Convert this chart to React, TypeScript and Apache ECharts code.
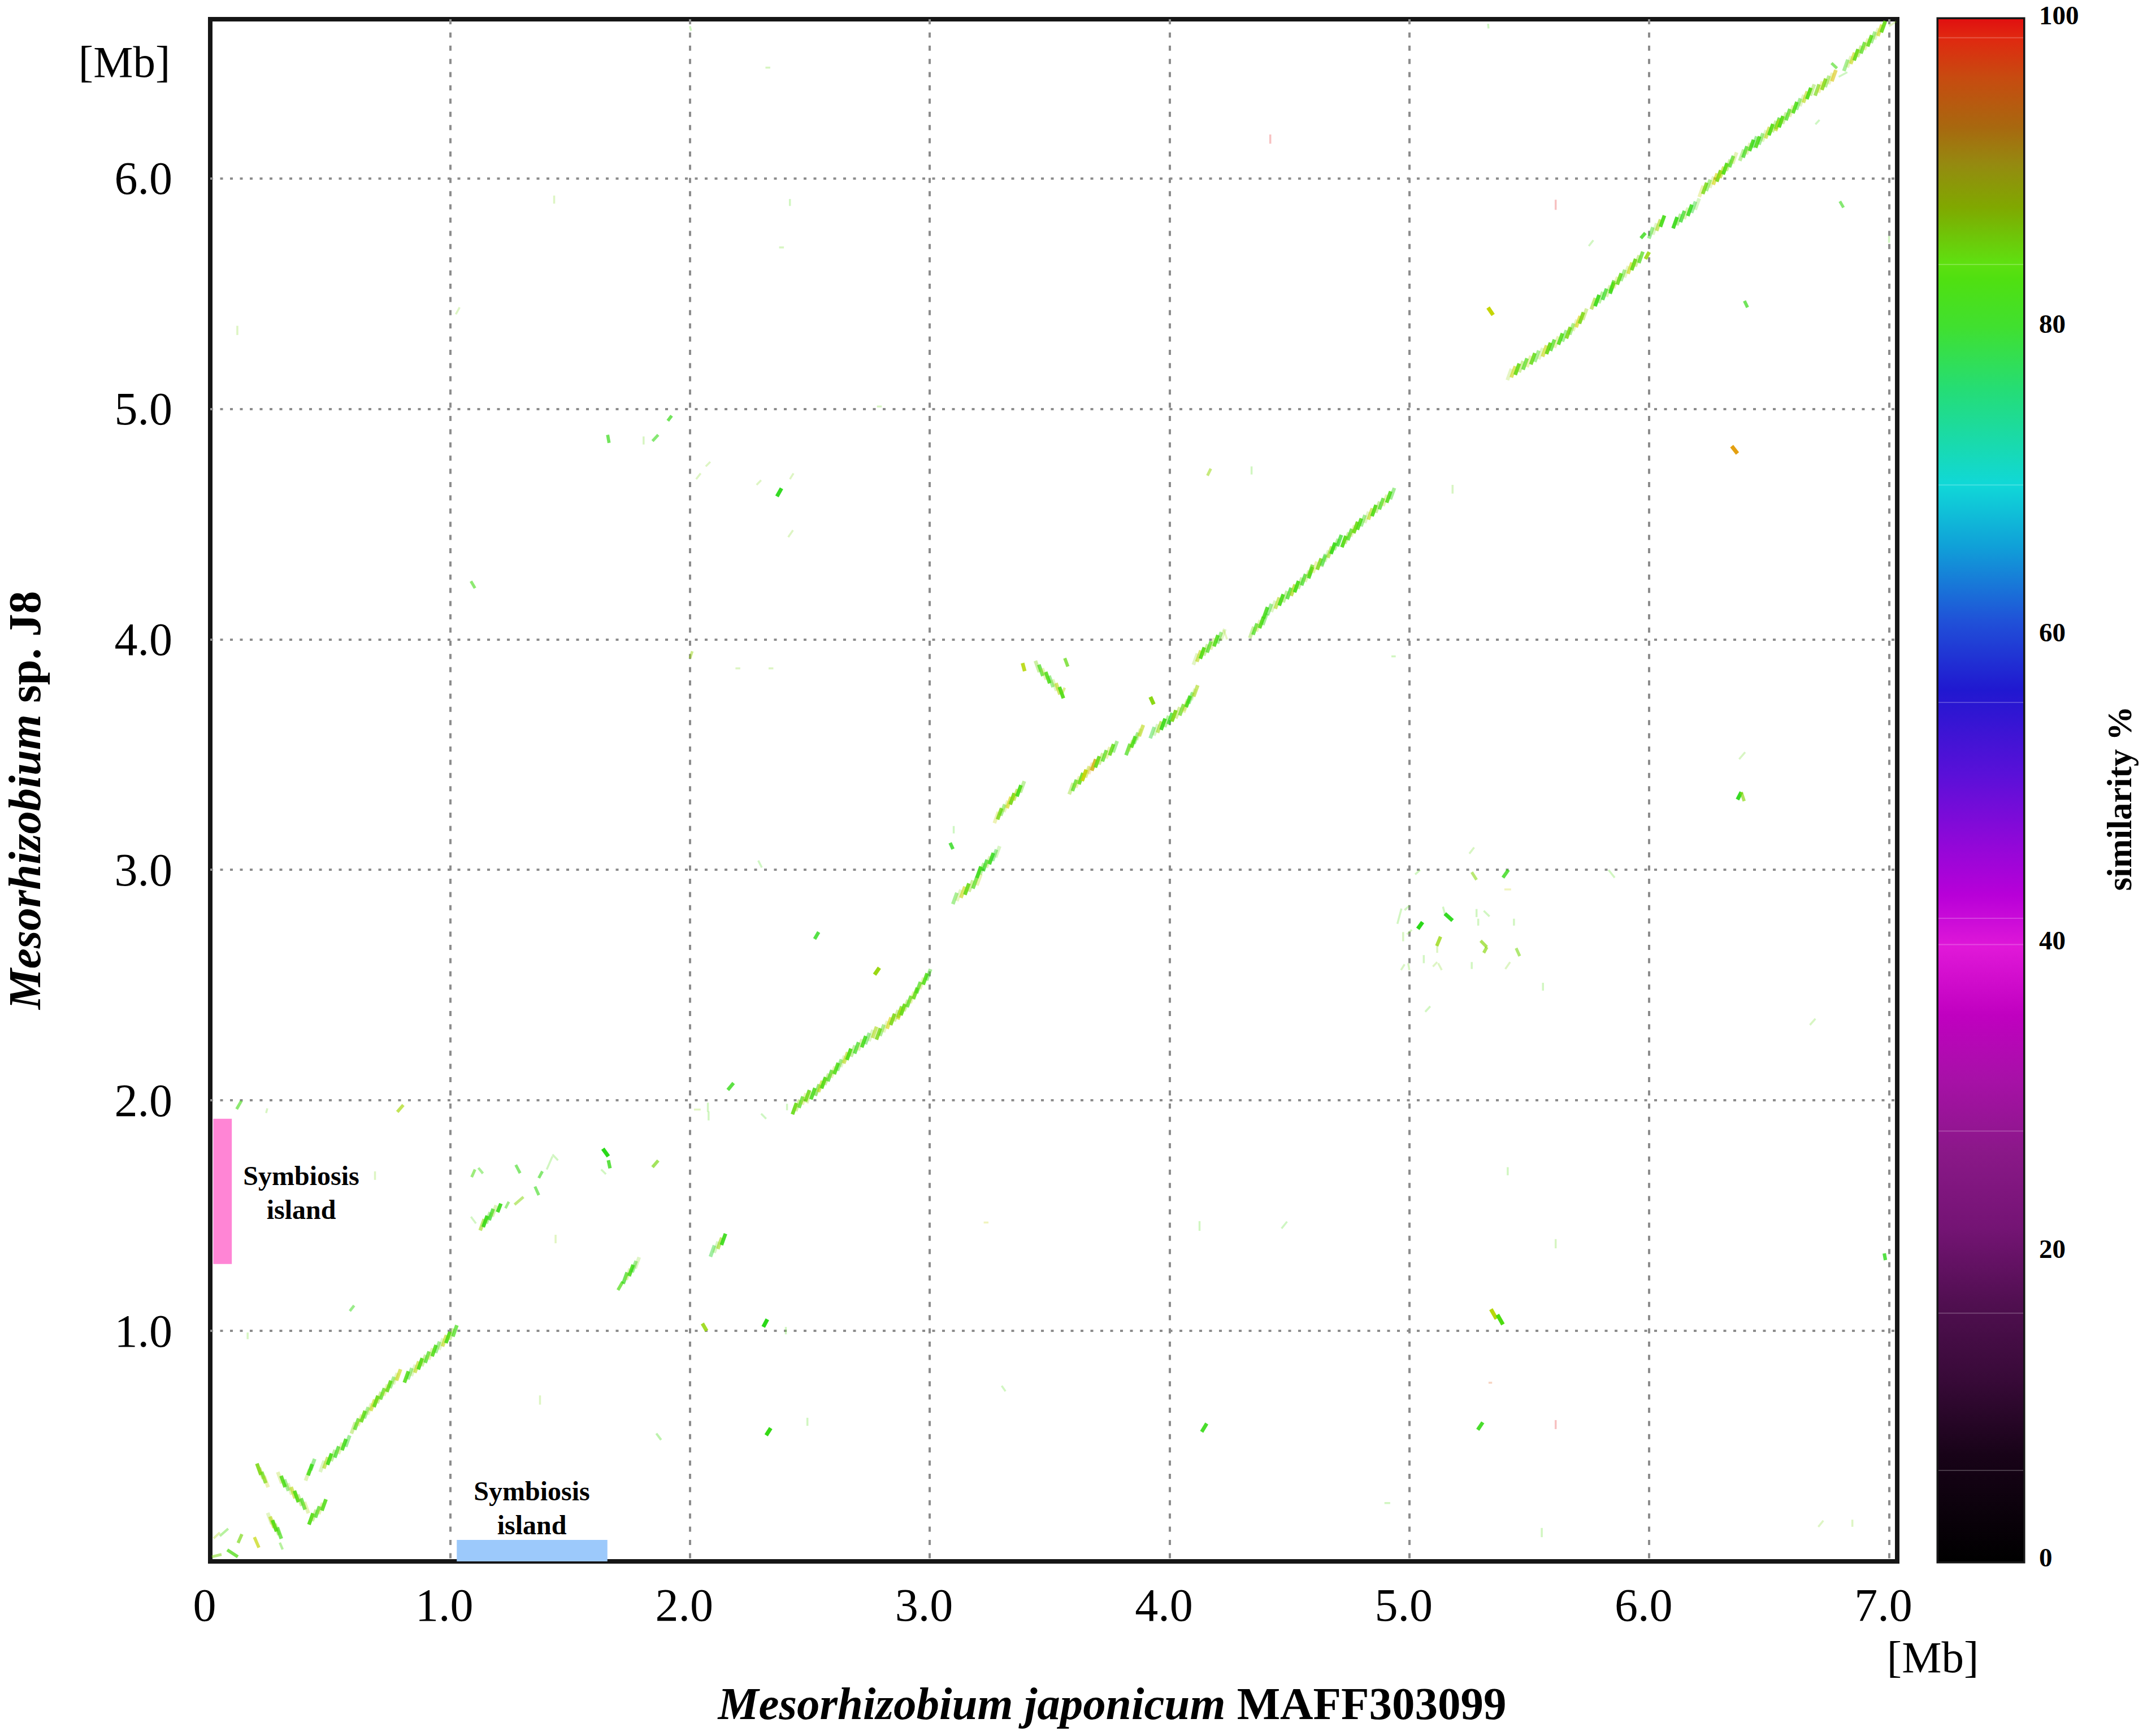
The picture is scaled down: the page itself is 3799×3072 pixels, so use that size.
import React, { useEffect, useRef } from "react";
import * as echarts from "echarts";

const SERIF = "Liberation Serif";

const xTickLabels = ["0", "1.0", "2.0", "3.0", "4.0", "5.0", "6.0", "7.0"];
const yTickLabels = ["", "1.0", "2.0", "3.0", "4.0", "5.0", "6.0"];

// similarity colour bar
const simStops = [0, 6.9, 11.8, 16.7, 21.6, 26.5, 31.4, 35.4, 39.8, 43.2, 46.6, 51, 56.5, 60.9, 65.8, 69.8, 76, 80, 83.2, 84.2, 87.8, 90.6, 93, 96.3, 98.8, 100];
const simColors = ["#000000", "#180318", "#380a38", "#500f50", "#741474", "#8a1888", "#a810a8", "#c000c0", "#e018d8", "#b800d8", "#9008d8", "#5a10d8", "#2018d0", "#2050d8", "#10a0d8", "#10d8d8", "#25dd75", "#40e030", "#50e010", "#5fe010", "#80a800", "#958a10", "#a8680f", "#c84a10", "#e02810", "#e01010"];
const barSheen = [5.9, 16.1, 27.9, 40, 41.7, 55.7, 69.8, 84.1, 98.8];

// colours the marks take in the picture, brighter than the bar at the same similarity
const markStops = [78, 80, 83, 85, 88, 91, 94, 97, 100];
const markColors = ["#30d848", "#2ad818", "#4cdc10", "#7cd818", "#a8d810", "#d4d400", "#e4a010", "#e05a10", "#e01010"];

// [x1, y1, x2, y2, similarity] in Mb, striped syntenic blocks running forward
const forwardBlocks = [
  [0.42, 0.184, 0.474, 0.245, 83], [0.406, 0.375, 0.427, 0.42, 82], [0.467, 0.412, 0.573, 0.522, 82],
  [0.597, 0.579, 0.785, 0.809, 84], [0.818, 0.8, 1.02, 1.0, 83],
  [1.134, 1.46, 1.184, 1.52, 81], [1.73, 1.229, 1.78, 1.295, 82], [2.094, 1.346, 2.14, 1.397, 81],
  [2.436, 1.964, 2.49, 2.02, 84], [2.495, 2.013, 2.531, 2.045, 82], [2.531, 2.045, 2.663, 2.2, 83],
  [2.68, 2.214, 2.77, 2.295, 82], [2.786, 2.288, 2.875, 2.383, 85], [2.875, 2.376, 2.94, 2.464, 84], [2.953, 2.489, 2.995, 2.545, 83],
  [3.105, 2.876, 3.205, 2.957, 84], [3.205, 2.99, 3.283, 3.078, 81],
  [3.278, 3.227, 3.344, 3.308, 85], [3.344, 3.308, 3.386, 3.36, 82],
  [3.59, 3.352, 3.644, 3.41, 84], [3.644, 3.41, 3.684, 3.455, 91], [3.684, 3.455, 3.773, 3.534, 84],
  [3.827, 3.522, 3.882, 3.604, 83], [3.928, 3.595, 4.018, 3.668, 81], [4.018, 3.668, 4.067, 3.707, 85], [4.067, 3.715, 4.109, 3.776, 82],
  [4.108, 3.914, 4.222, 4.02, 83], [4.343, 4.03, 4.397, 4.087, 83],
  [4.4, 4.115, 4.515, 4.213, 82], [4.515, 4.213, 4.588, 4.289, 82], [4.588, 4.299, 4.642, 4.34, 85], [4.642, 4.345, 4.708, 4.428, 81],
  [4.727, 4.424, 4.776, 4.485, 83], [4.776, 4.485, 4.929, 4.632, 83],
  [5.417, 5.149, 5.58, 5.262, 84], [5.58, 5.262, 5.663, 5.33, 83], [5.663, 5.33, 5.731, 5.41, 85],
  [5.767, 5.456, 5.845, 5.524, 81], [5.845, 5.532, 5.965, 5.657, 84],
  [6.007, 5.763, 6.055, 5.814, 82], [6.108, 5.807, 6.2, 5.888, 81],
  [6.217, 5.943, 6.29, 6.01, 85], [6.29, 6.01, 6.356, 6.088, 83], [6.386, 6.1, 6.44, 6.157, 82],
  [6.452, 6.157, 6.535, 6.238, 83], [6.535, 6.23, 6.68, 6.383, 83], [6.7, 6.383, 6.77, 6.445, 86], [6.82, 6.49, 6.976, 6.657, 84],
];

// striped blocks running backward
const invertedBlocks = [
  [0.203, 0.4, 0.233, 0.346, 85], [0.29, 0.363, 0.401, 0.233, 83], [0.248, 0.186, 0.288, 0.123, 83],
  [3.449, 3.882, 3.549, 3.769, 83],
];

// [x1, y1, x2, y2, similarity, strength] in Mb, short single hits
const strongHits = [
  [1.637, 1.79, 1.66, 1.757, 80, 1], [1.66, 1.74, 1.667, 1.705, 81, 0.8], [1.198, 1.515, 1.212, 1.552, 81, 0.9],
  [2.052, 1.032, 2.07, 1.0, 87, 0.9], [2.306, 1.017, 2.323, 1.05, 80, 1], [2.318, 0.547, 2.337, 0.578, 81, 1],
  [4.134, 0.562, 4.155, 0.598, 81, 0.9], [5.34, 1.094, 5.363, 1.052, 89, 1], [5.367, 1.07, 5.39, 1.028, 83, 1],
  [5.285, 0.571, 5.306, 0.603, 81, 0.9], [6.98, 1.336, 6.985, 1.307, 80, 0.8],
  [5.328, 5.439, 5.349, 5.407, 90, 1], [6.344, 4.838, 6.368, 4.806, 94, 1],
  [3.92, 3.75, 3.934, 3.718, 86, 1], [3.387, 3.897, 3.396, 3.862, 89, 0.9], [3.563, 3.918, 3.576, 3.882, 84, 0.75],
  [2.77, 2.545, 2.79, 2.575, 87, 1], [2.52, 2.7, 2.537, 2.73, 80, 0.8], [2.158, 2.045, 2.182, 2.075, 81, 0.8],
  [3.085, 3.117, 3.097, 3.09, 80, 0.8], [5.148, 2.81, 5.18, 2.78, 80, 0.95], [5.035, 2.744, 5.055, 2.773, 80, 1],
  [5.39, 2.966, 5.413, 3.0, 81, 0.8], [6.368, 3.305, 6.384, 3.337, 80, 0.95], [6.384, 3.337, 6.396, 3.298, 86, 0.7],
  [5.114, 2.67, 5.13, 2.71, 87, 0.8], [5.297, 2.692, 5.323, 2.665, 86, 0.7], [5.323, 2.665, 5.31, 2.64, 86, 0.7],
  [5.26, 2.99, 5.28, 2.957, 86, 0.6], [5.445, 2.66, 5.46, 2.626, 85, 0.6], [5.965, 5.74, 5.984, 5.763, 81, 0.8],
  [5.984, 5.65, 6.0, 5.68, 87, 0.9], [6.397, 5.468, 6.41, 5.44, 81, 0.7], [6.795, 5.9, 6.81, 5.873, 81, 0.6],
  [2.363, 4.62, 2.382, 4.655, 80, 0.95], [1.908, 4.948, 1.924, 4.97, 81, 0.7], [1.657, 4.887, 1.663, 4.852, 81, 0.7],
  [1.844, 4.86, 1.868, 4.887, 81, 0.6], [1.844, 1.71, 1.868, 1.739, 85, 0.7], [1.7, 1.177, 1.72, 1.213, 83, 0.7],
  [1.354, 1.626, 1.37, 1.589, 81, 0.6], [1.269, 1.548, 1.306, 1.581, 86, 0.55], [1.231, 1.532, 1.245, 1.56, 82, 0.5],
  [1.09, 1.667, 1.104, 1.7, 83, 0.55], [1.118, 1.707, 1.137, 1.683, 82, 0.45], [1.274, 1.72, 1.292, 1.684, 81, 0.6],
  [1.37, 1.663, 1.385, 1.692, 81, 0.6], [0.184, 0.105, 0.203, 0.06, 90, 0.7], [0.116, 0.08, 0.132, 0.118, 85, 0.7],
  [0.071, 0.05, 0.115, 0.02, 83, 0.75], [0.014, 0.1, 0.04, 0.125, 88, 0.35], [0.04, 0.11, 0.075, 0.142, 83, 0.4],
  [0.007, 0.02, 0.047, 0.03, 85, 0.55], [0.29, 0.081, 0.302, 0.052, 83, 0.4], [0.78, 1.95, 0.805, 1.98, 88, 0.7],
  [0.11, 1.962, 0.13, 1.998, 82, 0.6], [6.76, 6.5, 6.783, 6.477, 82, 0.6], [2.0, 3.917, 2.01, 3.948, 87, 0.5],
  [1.087, 4.252, 1.104, 4.222, 82, 0.6], [4.158, 4.71, 4.172, 4.74, 87, 0.55], [3.55, 3.76, 3.563, 3.79, 89, 0.45],
  [0.582, 1.086, 0.6, 1.11, 81, 0.5], [1.86, 0.555, 1.88, 0.527, 82, 0.35],
];

const faintHits = [
  [1.403, 1.7, 1.427, 1.757, 83], [1.427, 1.765, 1.45, 1.74, 83], [1.63, 1.7, 1.65, 1.68, 83], [1.087, 1.495, 1.108, 1.466, 83],
  [0.687, 1.692, 0.687, 1.655, 85], [1.44, 1.417, 1.44, 1.38, 86], [0.233, 1.945, 0.238, 1.965, 84], [2.017, 1.96, 2.045, 1.96, 86],
  [2.078, 1.952, 2.078, 1.913, 83], [2.075, 1.95, 2.075, 1.99, 83], [2.405, 1.957, 2.405, 1.985, 83], [2.297, 1.942, 2.318, 1.92, 82],
  [2.285, 3.04, 2.3, 3.01, 82], [3.1, 3.158, 3.1, 3.19, 82], [4.226, 4.04, 4.24, 4.0, 88], [4.342, 4.715, 4.342, 4.75, 83],
  [5.18, 4.632, 5.18, 4.67, 84], [4.925, 3.926, 4.943, 3.926, 83], [5.748, 5.706, 5.767, 5.731, 83], [6.693, 6.234, 6.71, 6.253, 82],
  [7.0, 5.75, 7.0, 5.72, 83], [5.328, 6.67, 5.33, 6.65, 82], [6.79, 6.44, 6.826, 6.46, 82], [7.0, 6.66, 7.03, 6.68, 86],
  [6.375, 3.48, 6.4, 3.51, 84], [5.25, 3.07, 5.27, 3.097, 84], [5.024, 2.98, 5.045, 3.0, 83], [5.83, 3.0, 5.856, 2.966, 83],
  [5.396, 2.915, 5.424, 2.915, 90], [4.98, 2.825, 5.0, 2.845, 83], [4.95, 2.766, 4.967, 2.832, 83], [5.14, 2.84, 5.15, 2.8, 83],
  [5.28, 2.83, 5.28, 2.795, 83], [5.287, 2.788, 5.287, 2.758, 83], [5.31, 2.822, 5.334, 2.798, 83], [5.436, 2.788, 5.436, 2.758, 83],
  [4.974, 2.73, 4.974, 2.69, 84], [4.99, 2.72, 5.01, 2.74, 84], [5.116, 2.676, 5.116, 2.64, 85], [5.06, 2.63, 5.06, 2.595, 83],
  [4.965, 2.565, 4.98, 2.59, 84], [4.995, 2.595, 5.0, 2.565, 84], [5.098, 2.58, 5.116, 2.6, 85], [5.12, 2.595, 5.135, 2.565, 85],
  [5.26, 2.6, 5.26, 2.57, 83], [5.4, 2.57, 5.42, 2.6, 85], [5.557, 2.51, 5.557, 2.476, 83], [5.066, 2.384, 5.087, 2.408, 83],
  [6.67, 2.327, 6.693, 2.354, 84], [5.41, 1.71, 5.41, 1.675, 83], [4.467, 1.444, 4.49, 1.474, 82], [5.61, 1.398, 5.61, 1.358, 84],
  [4.896, 0.253, 4.92, 0.253, 83], [5.552, 0.145, 5.552, 0.105, 83], [6.705, 0.15, 6.726, 0.177, 85], [6.847, 0.181, 6.847, 0.15, 85],
  [3.3, 0.762, 3.316, 0.738, 83], [2.4, 1.017, 2.4, 0.985, 83], [2.49, 0.623, 2.49, 0.588, 83], [4.125, 1.476, 4.125, 1.434, 83],
  [3.225, 1.47, 3.245, 1.47, 90], [0.156, 0.993, 0.156, 0.964, 84], [1.375, 0.72, 1.375, 0.68, 85], [0.113, 5.36, 0.113, 5.32, 85],
  [1.024, 5.41, 1.04, 5.44, 85], [1.434, 5.925, 1.434, 5.89, 85], [2.315, 6.48, 2.335, 6.48, 84], [2.417, 5.91, 2.417, 5.88, 83],
  [2.372, 5.7, 2.392, 5.7, 84], [2.78, 5.01, 2.8, 5.01, 84], [1.807, 4.88, 1.807, 4.845, 84], [2.026, 4.695, 2.045, 4.72, 85],
  [2.066, 4.75, 2.085, 4.77, 85], [2.278, 4.67, 2.297, 4.69, 85], [2.417, 4.695, 2.432, 4.72, 85], [2.41, 4.443, 2.43, 4.473, 85],
  [2.19, 3.874, 2.21, 3.874, 85], [2.328, 3.874, 2.348, 3.874, 85], [2.0, 6.66, 2.005, 6.64, 83],
  [5.33, 0.775, 5.345, 0.775, 97], [5.61, 0.613, 5.61, 0.574, 100], [5.61, 5.907, 5.61, 5.863, 100], [4.42, 6.19, 4.42, 6.15, 100],
];

// [x1, y1, x2, y2, colour] in Mb, the two annotated island bars
const islandBars = [
  [0.0125, 1.29, 0.09, 1.92, "#ff85d5"],
  [1.028, 0, 1.656, 0.093, "#9cc9fb"],
];

const stripeOpacity = [0.9, 0.4, 0.7, 0.3, 0.85, 0.45, 0.25, 0.6];
const stripeSimShift = [0, 2, -1, 5, 0, -2, 3, 6];

function markColor(s: number): string {
  let i = 0;
  while (i < markStops.length - 2 && s > markStops[i + 1]) i++;
  const t = Math.min(1, Math.max(0, (s - markStops[i]) / (markStops[i + 1] - markStops[i])));
  const a = echarts.color.parse(markColors[i]);
  const b = echarts.color.parse(markColors[i + 1]);
  const c = [0, 1, 2].map((k) => Math.round(a[k] + (b[k] - a[k]) * t));
  return `rgb(${c[0]},${c[1]},${c[2]})`;
}

function renderStripes(params: any, api: any) {
  const p1 = api.coord([api.value(0), api.value(1)]);
  const p2 = api.coord([api.value(2), api.value(3)]);
  const sim = api.value(4);
  const dx = p2[0] - p1[0];
  const dy = p2[1] - p1[1];
  const len = Math.hypot(dx, dy);
  const n = Math.max(2, Math.round(len / 8.6));
  const lean = dy < 0 ? 3.6 : -3.6;
  const children: any[] = [];
  for (let i = 0; i <= n; i++) {
    const cx = p1[0] + (dx * i) / n;
    const cy = p1[1] + (dy * i) / n;
    const k = (i + params.dataIndex * 3) % stripeOpacity.length;
    children.push({
      type: "line",
      shape: { x1: cx - lean, y1: cy + 10, x2: cx + lean, y2: cy - 10 },
      style: { stroke: markColor(sim + stripeSimShift[k]), lineWidth: 6.5, opacity: stripeOpacity[k] },
    });
  }
  return { type: "group", children };
}

function renderHit(params: any, api: any) {
  const p1 = api.coord([api.value(0), api.value(1)]);
  const p2 = api.coord([api.value(2), api.value(3)]);
  const op = api.value(5);
  return {
    type: "line",
    shape: { x1: p1[0], y1: p1[1], x2: p2[0], y2: p2[1] },
    style: { stroke: markColor(api.value(4)), lineWidth: 2.5 + 4.5 * op, opacity: op },
  };
}

function renderFaint(params: any, api: any) {
  const p1 = api.coord([api.value(0), api.value(1)]);
  const p2 = api.coord([api.value(2), api.value(3)]);
  return {
    type: "line",
    shape: { x1: p1[0], y1: p1[1], x2: p2[0], y2: p2[1] },
    style: { stroke: markColor(api.value(4)), lineWidth: 3.5, opacity: 0.26 },
  };
}

function renderIsland(params: any, api: any) {
  const p1 = api.coord([api.value(0), api.value(1)]);
  const p2 = api.coord([api.value(2), api.value(3)]);
  return {
    type: "rect",
    shape: { x: p1[0], y: p2[1], width: p2[0] - p1[0], height: p1[1] - p2[1] },
    style: { fill: islandBars[params.dataIndex][4] as string },
  };
}

function renderBar(params: any, api: any) {
  const top = api.coord([0, 100]);
  const bottom = api.coord([1, 0]);
  const colorStops = simStops.map((s, i) => ({ offset: 1 - s / 100, color: simColors[i] })).reverse();
  const children: any[] = [
    {
      type: "rect",
      shape: { x: top[0], y: top[1], width: bottom[0] - top[0], height: bottom[1] - top[1] },
      style: { fill: { type: "linear", x: 0, y: 0, x2: 0, y2: 1, colorStops } },
    },
  ];
  barSheen.forEach((s) => {
    const y = api.coord([0, s])[1];
    children.push({
      type: "line",
      shape: { x1: top[0], y1: y, x2: bottom[0], y2: y },
      style: { stroke: "rgba(255,255,255,0.22)", lineWidth: 2 },
    });
  });
  return { type: "group", children };
}

export default function App() {
  const ref = useRef<HTMLDivElement>(null);

  useEffect(() => {
    const chart = echarts.init(ref.current!, undefined, { renderer: "svg" });
    const tickText = { fontFamily: SERIF, fontSize: 82, color: "#000" };
    const labelStyle = (text: string, x: number, y: number, extra: any = {}) => ({
      type: "text",
      x,
      y,
      ...extra,
      style: { text, align: "center", verticalAlign: "middle", fontFamily: SERIF, fill: "#000", ...extra.style },
    });
    const titleRich = {
      i: { fontFamily: SERIF, fontStyle: "italic", fontWeight: "bold", fontSize: 81, fill: "#000" },
      b: { fontFamily: SERIF, fontWeight: "bold", fontSize: 81, fill: "#000" },
    };
    chart.setOption({
      animation: false,
      backgroundColor: "#fff",
      grid: [
        { left: 372, top: 34, width: 2985, height: 2729, show: true, borderColor: "#161616", borderWidth: 8, backgroundColor: "transparent" },
        { left: 3430, top: 34, width: 150, height: 2729, show: true, borderColor: "#161616", borderWidth: 7, backgroundColor: "transparent" },
      ],
      xAxis: [
        {
          gridIndex: 0, type: "value", min: 0, max: 7.034, interval: 1,
          axisLine: { show: false }, axisTick: { show: false },
          splitLine: { show: true, showMinLine: false, showMaxLine: false, lineStyle: { color: "#8c8c8c", width: 4, type: [9, 14.4] } },
          axisLabel: { ...tickText, margin: 36, padding: [0, 20, 0, 0], formatter: (v: number) => xTickLabels[v] ?? "" },
        },
        { gridIndex: 1, type: "value", min: 0, max: 1, show: false },
      ],
      yAxis: [
        {
          gridIndex: 0, type: "value", min: 0, max: 6.69, interval: 1,
          axisLine: { show: false }, axisTick: { show: false },
          splitLine: { show: true, showMinLine: false, showMaxLine: false, lineStyle: { color: "#8c8c8c", width: 4, type: [5, 12.5] } },
          axisLabel: { ...tickText, margin: 67, formatter: (v: number) => yTickLabels[v] ?? "" },
        },
        {
          gridIndex: 1, type: "value", min: 0, max: 100, interval: 20, position: "right",
          axisLine: { show: false }, axisTick: { show: false }, splitLine: { show: false },
          axisLabel: { fontFamily: SERIF, fontWeight: "bold", fontSize: 47, color: "#000", margin: 28, verticalAlign: "bottom", lineHeight: 14 },
        },
      ],
      series: [
        { type: "custom", name: "colour bar", xAxisIndex: 1, yAxisIndex: 1, renderItem: renderBar, data: [[0, 0]], z: 1 },
        { type: "custom", name: "islands", renderItem: renderIsland, data: islandBars, z: 2, silent: true },
        { type: "custom", name: "faint hits", renderItem: renderFaint, data: faintHits, z: 3 },
        { type: "custom", name: "short hits", renderItem: renderHit, data: strongHits, z: 4 },
        { type: "custom", name: "forward blocks", renderItem: renderStripes, data: forwardBlocks, z: 5 },
        { type: "custom", name: "inverted blocks", renderItem: renderStripes, data: invertedBlocks, z: 5 },
      ],
      graphic: [
        labelStyle("[Mb]", 220, 109, { style: { fontSize: 79 } }),
        labelStyle("[Mb]", 3420, 2932, { style: { fontSize: 79 } }),
        labelStyle("Symbiosis\nisland", 533, 2110, { style: { fontSize: 48, fontWeight: "bold", lineHeight: 60 } }),
        labelStyle("Symbiosis\nisland", 941, 2668, { style: { fontSize: 48, fontWeight: "bold", lineHeight: 60 } }),
        labelStyle("similarity %", 3750, 1413, { rotation: Math.PI / 2, style: { fontSize: 61, fontWeight: "bold" } }),
        labelStyle("{i|Mesorhizobium japonicum} {b|MAFF303099}", 1968, 3015, { style: { fontSize: 81, fontWeight: "bold", rich: titleRich } }),
        labelStyle("{i|Mesorhizobium} {b|sp. J8}", 44, 1416, { rotation: Math.PI / 2, style: { fontSize: 81, fontWeight: "bold", rich: titleRich } }),
      ],
    });
    return () => chart.dispose();
  }, []);

  return <div ref={ref} style={{ position: "absolute", left: 0, top: 0, width: 3799, height: 3072 }} />;
}
